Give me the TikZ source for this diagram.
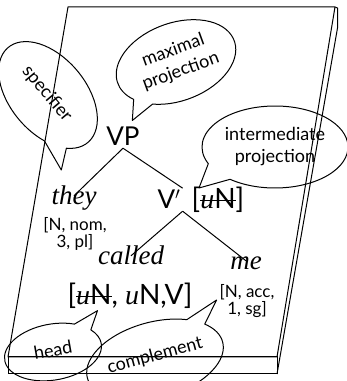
\documentclass[tikz,border=0pt]{standalone}
\usepackage{fontspec}
\setmainfont{Liberation Serif}
\newfontfamily\gillfont{Lato}
\newcommand{\ufeat}{{\rmfamily\itshape u}}
\newsavebox{\strikebox}
\newcommand{\strikeout}[1]{\sbox{\strikebox}{#1}\rlap{\usebox{\strikebox}}\rule[0.27em]{\wd\strikebox}{1.3pt}}

\begin{document}
\begin{tikzpicture}[x=1pt,y=1pt,
  cat/.style={inner sep=2pt, font=\gillfont\fontsize{26}{28}\selectfont},
  catfeat/.style={inner sep=2pt, font=\gillfont\fontsize{28}{30}\selectfont},
  word/.style={inner sep=2pt, text height=0.7em, font=\itshape\fontsize{27}{30}\selectfont},
  feat/.style={inner sep=0pt, align=center, font=\gillfont\fontsize{17}{17}\selectfont},
  bubbletext/.style={inner sep=0pt, align=center, font=\gillfont\fontsize{18}{22}\selectfont},
  bubble/.style={draw=drawColor, line width=1pt, line join=round}]
\definecolor{drawColor}{RGB}{0,0,0}
\path[use as bounding box] (0,0) rectangle (347,381);
\clip (0,0) rectangle (347,381);

% slab
\path[draw=drawColor,line width=1pt,line join=round] (68,374) -- (335,374) -- (277,24) -- (8,24) -- cycle;
\path[draw=drawColor,line width=1pt] (8,7) rectangle (277,24);
\path[draw=drawColor,line width=1pt,line join=round] (335,374) -- (337.5,373) -- (337.5,353) -- (277,7);

% tree
\node[cat,anchor=base] (vp) at (123,235) {VP};
\node[word,anchor=base] (they) at (74,176) {they};
\node[feat,anchor=north] (theyfeat) at (75,164) {[N, nom,\\3, pl]};
\node[cat,anchor=base] (vbar) at (169,172) {V$'$};
\node[catfeat,anchor=base] (vbarfeat) at (218,172) {[\strikeout{\ufeat N}]};
\node[word,anchor=base] (called) at (131,116) {called};
\node[catfeat,anchor=base] (calledfeat) at (130,76) {[\strikeout{\ufeat N}, \ufeat N,V]};
\node[word,anchor=base] (me) at (246,111) {me};
\node[feat,anchor=north] (mefeat) at (247,97) {[N, acc,\\1, sg]};

\path[draw=drawColor,line width=1pt] (vp.south) -- (they.north);
\path[draw=drawColor,line width=1pt] (vp.south) -- (vbar.north east);
\path[draw=drawColor,line width=1pt] (vbar.south east) -- (called.north);
\path[draw=drawColor,line width=1pt] (vbar.south east) -- (me.north);

% bubbles: ellipse arc, then the tail out to its tip
\begin{scope}[shift={(48,286)},rotate=-50]
\path[bubble] (-32:62 and 38) arc[start angle=-32,end angle=302,x radius=62,y radius=38] -- (66,-38) -- cycle;
\end{scope}
\node[bubbletext,rotate=-50] (spec) at (47,287) {specifier};

\begin{scope}[shift={(176,319)},rotate=20]
\path[bubble] (234:62 and 39) arc[start angle=234,end angle=572,x radius=62,y radius=39] -- (-61,-40) -- cycle;
\end{scope}
\node[bubbletext,rotate=20] (maxproj) at (177,320) {maximal\\projection};

\begin{scope}[shift={(275,234)}]
\path[bubble] (232:73 and 41) arc[start angle=232,end angle=564,x radius=73,y radius=41] -- (-76,-41) -- cycle;
\end{scope}
\node[bubbletext] (intproj) at (275,234) {intermediate\\projection};

\begin{scope}[shift={(53,29)},rotate=10]
\path[bubble] (58:49 and 28) arc[start angle=58,end angle=393,x radius=49,y radius=28] -- (51,33) -- cycle;
\end{scope}
\node[bubbletext,rotate=10] (head) at (53,31) {head};

\begin{scope}[shift={(155,21)},rotate=15]
\path[bubble] (54:70 and 38) arc[start angle=54,end angle=395,x radius=70,y radius=38] -- (75,42) -- cycle;
\end{scope}
\node[bubbletext,rotate=15] (comp) at (155,25) {complement};
\end{tikzpicture}
\end{document}
